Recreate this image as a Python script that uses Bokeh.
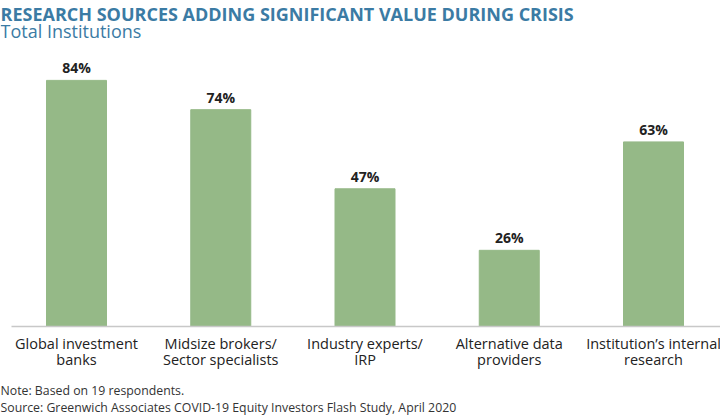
from bokeh.plotting import figure
from bokeh.models import ColumnDataSource, Label, Range1d
from bokeh.core.properties import value
from bokeh.embed import file_html
from bokeh.resources import INLINE

categories = ["Global investment\nbanks", "Midsize brokers/\nSector specialists",
              "Industry experts/\nIRP", "Alternative data\nproviders",
              "Institution\u2019s internal\nresearch"]
values = [84, 74, 47, 26, 63]
value_labels = [f"{v}%" for v in values]

title = "RESEARCH SOURCES ADDING SIGNIFICANT VALUE DURING CRISIS"
subtitle = "Total Institutions"
note = "Note: Based on 19 respondents."
source_text = "Source: Greenwich Associates COVID-19 Equity Investors Flash Study, April 2020"

FONT = "Open Sans"
W, H = 720, 418
spacing = 144.25
first_center = 76
baseline_px = 326
px_per_unit = 2.93

x_start = -first_center / spacing
x_end = (W - first_center) / spacing
y_start = -(H - baseline_px) / px_per_unit
y_end = baseline_px / px_per_unit

p = figure(width=W, height=H, output_backend="svg", toolbar_location=None,
           x_range=Range1d(x_start, x_end), y_range=Range1d(y_start, y_end),
           min_border=0, min_border_left=0, min_border_right=0,
           min_border_top=0, min_border_bottom=0)
p.axis.visible = False
p.grid.visible = False
p.outline_line_color = None
p.background_fill_color = "white"
p.border_fill_color = "white"

xs = list(range(len(categories)))
src = ColumnDataSource(dict(x=xs, top=values, cat=categories, lab=value_labels,
                            laby=[v + 1.0 for v in values]))

p.vbar(x="x", top="top", bottom=0, width=60 / spacing, source=src,
       fill_color="#95b987", line_color="#95b987")

# baseline
p.segment(x0=[(11 - first_center) / spacing], y0=[0], x1=[x_end], y1=[0],
          line_color="#c8c8c8", line_width=1.5)

p.text(x="x", y="laby", text="lab", source=src, text_align="center",
       text_baseline="bottom", text_font=value(FONT), text_font_size="14px",
       text_font_style="bold", text_color="#222222")

p.text(x="x", y=-2.6, text="cat", source=src, text_align="center",
       text_baseline="top", text_font=value(FONT), text_font_size="14.5px",
       text_color="#222222", text_line_height=0.85)

p.add_layout(Label(x=0, y=H - 1, x_units="screen", y_units="screen", text=title,
                   text_font=FONT, text_font_size="18px", text_font_style="bold",
                   text_color="#3b7ba4", text_baseline="top"))
p.add_layout(Label(x=0, y=H - 18, x_units="screen", y_units="screen", text=subtitle,
                   text_font=FONT, text_font_size="18px",
                   text_color="#3b7ba4", text_baseline="top"))
p.add_layout(Label(x=0, y=H - 381, x_units="screen", y_units="screen", text=note,
                   text_font=FONT, text_font_size="12.3px",
                   text_color="#333333", text_baseline="top"))
p.add_layout(Label(x=0, y=H - 398, x_units="screen", y_units="screen", text=source_text,
                   text_font=FONT, text_font_size="12.3px",
                   text_color="#333333", text_baseline="top"))

open("out.html", "w").write(file_html(p, INLINE))
